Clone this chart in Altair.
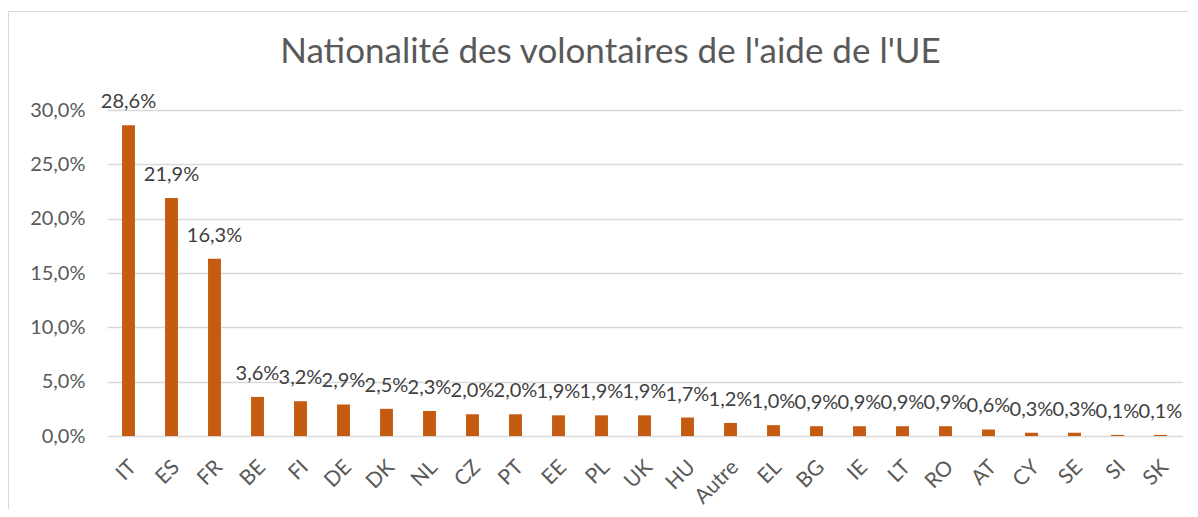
import altair as alt
import pandas as pd

countries = ["IT", "ES", "FR", "BE", "FI", "DE", "DK", "NL", "CZ", "PT", "EE", "PL", "UK",
             "HU", "Autre", "EL", "BG", "IE", "LT", "RO", "AT", "CY", "SE", "SI", "SK"]
values = [28.6, 21.9, 16.3, 3.6, 3.2, 2.9, 2.5, 2.3, 2.0, 2.0, 1.9, 1.9, 1.9,
          1.7, 1.2, 1.0, 0.9, 0.9, 0.9, 0.9, 0.6, 0.3, 0.3, 0.1, 0.1]
y_ticks = [0, 0.05, 0.10, 0.15, 0.20, 0.25, 0.30]

df = pd.DataFrame({
    "pays": countries,
    "part": [v / 100 for v in values],
    "label": [f"{v:.1f}%".replace(".", ",") for v in values],
})

FONT = "Lato"
GREY = "#595959"
ORANGE = "#C55A11"

x_enc = alt.X("pays:N", sort=countries, title=None,
              scale=alt.Scale(paddingInner=0.7, paddingOuter=0.35),
              axis=alt.Axis(labelAngle=-45, labelFontSize=21, labelColor=GREY, labelFont=FONT,
                            ticks=False, domain=False, labelPadding=20, labelOffset=-3,
                            grid=False))
y_enc = alt.Y("part:Q", title=None,
              scale=alt.Scale(domain=[0, 0.30], nice=False),
              axis=alt.Axis(values=y_ticks,
                            labelExpr="replace(format(datum.value, '.1%'), '.', ',')",
                            labelFontSize=20, labelColor=GREY, labelFont=FONT,
                            ticks=False, domain=False, labelPadding=22,
                            gridColor="#D9D9D9", gridWidth=1.5))

base = alt.Chart(df)

bars = base.mark_bar(color=ORANGE).encode(x=x_enc, y=y_enc)
texts = base.mark_text(baseline="alphabetic", dy=-17, fontSize=20, font=FONT, color="#404040").encode(
    x=alt.X("pays:N", sort=countries), y="part:Q", text="label:N")

frame_left = base.mark_rule(color="#D9D9D9", strokeWidth=1).encode(
    x=alt.value(-98.5), y=alt.value(-98.5), y2=alt.value(500))
frame_top = base.mark_rule(color="#D9D9D9", strokeWidth=1).encode(
    x=alt.value(-98.5), x2=alt.value(1200), y=alt.value(-98.5))

chart = alt.layer(frame_left, frame_top, bars, texts).properties(
    width=1075, height=326,
    autosize=alt.AutoSizeParams(type="none"),
    padding={"left": 99, "top": 102, "right": 6, "bottom": 73},
    title=alt.TitleParams("Nationalité des volontaires de l'aide de l'UE",
                          fontSize=35, font=FONT, color=GREY, fontWeight="normal",
                          anchor="middle", dx=-34, dy=87, offset=0, baseline="alphabetic"),
).configure_view(stroke=None)

chart.save("out.html", embed_options={"renderer": "svg", "actions": False})
